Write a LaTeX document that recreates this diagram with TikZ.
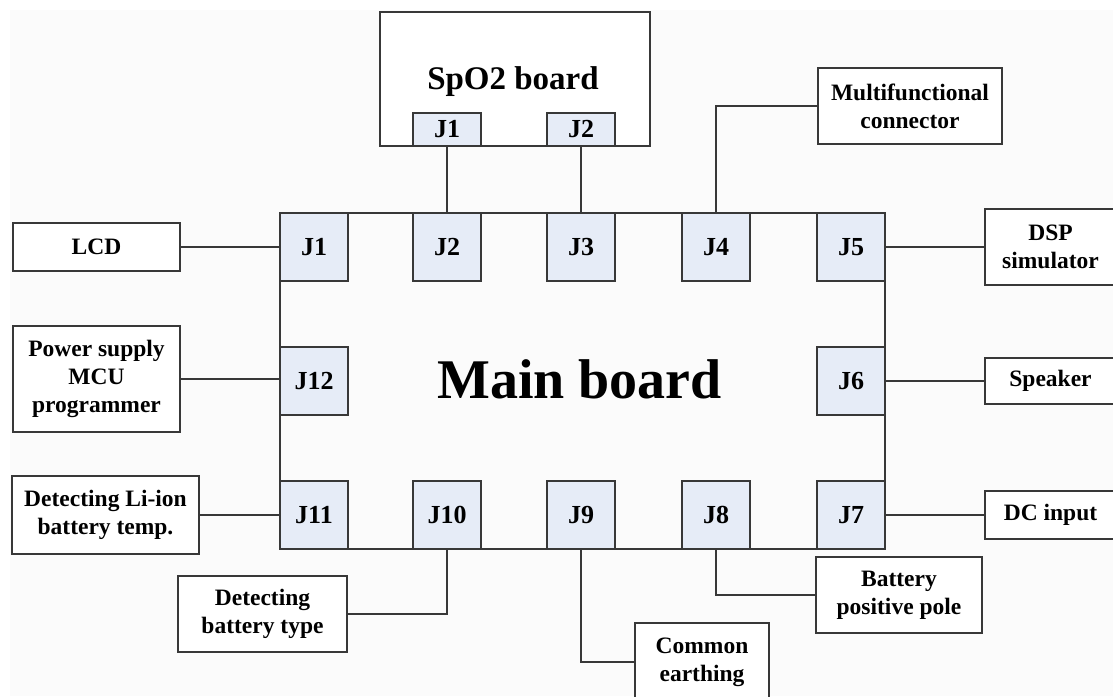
\documentclass[tikz,border=0pt]{standalone}
\usepackage{fontspec}
\setmainfont{Liberation Serif}
\definecolor{linec}{HTML}{383838}
\definecolor{jfill}{HTML}{E6ECF7}
\definecolor{bgc}{HTML}{FBFBFB}
\tikzset{
  wire/.style={draw=linec, line width=2pt},
  lbox/.style={draw=linec, line width=2pt, fill=white, align=center, inner sep=0pt,
    font=\bfseries\fontsize{23.5}{28}\selectfont},
  jbox/.style={draw=linec, line width=2pt, fill=jfill, inner sep=0pt,
    minimum width=68pt, minimum height=68pt, font=\bfseries\fontsize{26}{28}\selectfont},
  sjbox/.style={draw=linec, line width=2pt, fill=jfill, inner sep=0pt,
    minimum width=68pt, minimum height=33pt, font=\bfseries\fontsize{26}{28}\selectfont},
  board/.style={draw=linec, line width=2pt, fill=white, inner sep=0pt}
}
\begin{document}
\begin{tikzpicture}[x=1pt,y=-1pt]
\useasboundingbox (0,0) rectangle (1113,696);
\clip (0,0) rectangle (1113,696);
\fill[white] (0,0) rectangle (1113,696);
\fill[bgc] (10,10) rectangle (1113,696);

% SpO2 board
\node[board, minimum width=270pt, minimum height=134pt] (sp) at (515,79) {};
\node[anchor=base, font=\bfseries\fontsize{33}{36}\selectfont] (sptxt) at (513,89) {SpO2 board};
\node[sjbox] (sj1) at (447,129.5) {J1};
\node[sjbox] (sj2) at (581,129.5) {J2};

% Main board
\node[draw=linec, line width=2pt, inner sep=0pt, minimum width=605pt, minimum height=336pt] (main) at (582.5,381) {};
\node[anchor=base, font=\bfseries\fontsize{56}{60}\selectfont] (maintxt) at (579.5,398) {Main board};

\node[jbox] (mj1) at (314,247) {J1};
\node[jbox] (mj2) at (447,247) {J2};
\node[jbox] (mj3) at (581,247) {J3};
\node[jbox] (mj4) at (716,247) {J4};
\node[jbox] (mj5) at (851,247) {J5};
\node[jbox] (mj12) at (314,381) {J12};
\node[jbox] (mj6) at (851,381) {J6};
\node[jbox] (mj11) at (314,515) {J11};
\node[jbox] (mj10) at (447,515) {J10};
\node[jbox] (mj9) at (581,515) {J9};
\node[jbox] (mj8) at (716,515) {J8};
\node[jbox] (mj7) at (851,515) {J7};

% peripheral boxes
\node[lbox, minimum width=167pt, minimum height=48pt] (lcd) at (96.5,247) {LCD};
\node[lbox, minimum width=167pt, minimum height=106pt] (pwr) at (96.5,379) {Power supply\\MCU\\programmer};
\node[lbox, minimum width=187pt, minimum height=78pt] (lion) at (105.5,515) {Detecting Li-ion\\battery temp.};
\node[lbox, minimum width=169pt, minimum height=76pt] (btype) at (262.5,614) {Detecting\\battery type};
\node[lbox, minimum width=134pt, minimum height=78pt] (ce) at (702,662) {Common\\earthing};
\node[lbox, minimum width=166pt, minimum height=76pt] (bpp) at (899,595) {Battery\\positive pole};
\node[lbox, minimum width=131pt, minimum height=48pt] (dc) at (1050.5,515) {DC input};
\node[lbox, minimum width=131pt, minimum height=46pt] (spk) at (1050.5,381) {Speaker};
\node[lbox, minimum width=131pt, minimum height=76pt] (dsp) at (1050.5,247) {DSP\\simulator};
\node[lbox, minimum width=184pt, minimum height=76pt] (mf) at (910,106) {Multifunctional\\connector};

% connectors
\draw[wire] (sj1.south) -- (mj2.north);
\draw[wire] (sj2.south) -- (mj3.north);
\draw[wire] (mj4.north) |- (mf.west);
\draw[wire] (lcd.east) -- (mj1.west);
\draw[wire] (pwr.east) -- (pwr.east -| mj12.west);
\draw[wire] (lion.east) -- (mj11.west);
\draw[wire] (mj10.south) |- (btype.east);
\draw[wire] (mj9.south) |- (ce.west);
\draw[wire] (mj8.south) |- (bpp.west);
\draw[wire] (mj7.east) -- (dc.west);
\draw[wire] (mj6.east) -- (spk.west);
\draw[wire] (mj5.east) -- (dsp.west);
\end{tikzpicture}
\end{document}
